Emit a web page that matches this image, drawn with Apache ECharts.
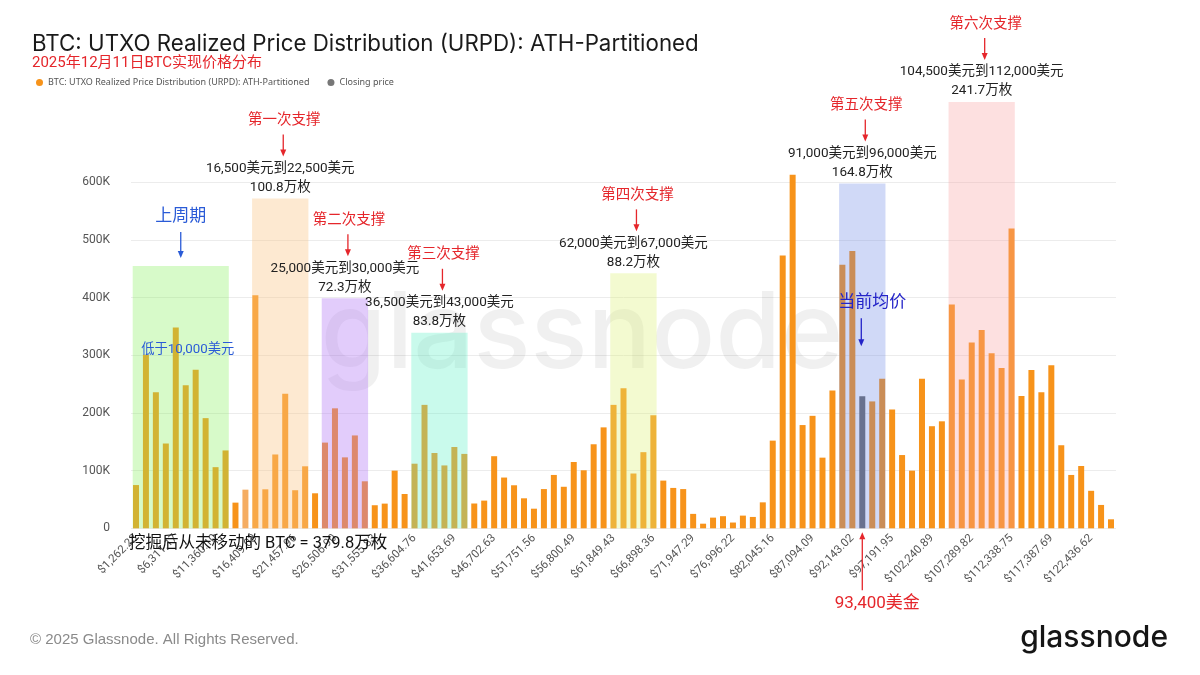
<!DOCTYPE html>
<html>
<head>
<meta charset="utf-8">
<script src="https://cdn.jsdelivr.net/npm/echarts@6/dist/echarts.min.js"></script>
<style>
html,body{margin:0;padding:0;background:#fff;}
#chart{width:1200px;height:675px;}
</style>
</head>
<body>
<div id="chart"></div>
<script>
// ---------------- DATA ----------------
const binWidth = 1262.233175; // USD width of each realized-price bucket
const urpdValues = [
  75000, 301000, 236000, 147000, 348000, 248000, 275000, 191000, 106000, 135000,
  44500, 67000, 404000, 67600, 128000, 233500, 66000, 107500, 60700, 148600,
  208000, 123000, 161000, 81500, 40000, 42800, 100000, 59500, 112000, 214000,
  130600, 109000, 141000, 129000, 43000, 48000, 125000, 88000, 74600, 52000,
  34000, 68000, 92500, 72000, 115000, 100600, 145700, 175000, 214000, 243000,
  95000, 132000, 196000, 82700, 70000, 68000, 25000, 8000, 18500, 21000,
  10000, 22000, 19700, 45000, 152000, 473000, 613000, 179000, 195000, 122500,
  239000, 457000, 481000, 229000, 220000, 259500, 206000, 127000, 100000, 259500,
  177000, 185500, 388000, 258000, 322000, 344000, 303500, 278000, 520000, 229500,
  274600, 236000, 282700, 144000, 92500, 108000, 65000, 40500, 15600
];
const categories = urpdValues.map((_, i) =>
  '$' + ((i + 1) * binWidth).toLocaleString('en-US', {minimumFractionDigits: 2, maximumFractionDigits: 2}));
const closingPriceIndex = 73;   // bucket containing the closing price (~93,400)
const fadedIndex = 11;          // lighter bar in the reference
const yTickValues = [0, 100000, 200000, 300000, 400000, 500000, 600000];

const regionStart = [0, 12, 19, 28, 48, 71, 82];
const regionEnd   = [9, 17, 23, 33, 52, 75, 88];
const regionTop   = [455000, 572000, 399000, 339000, 442000, 598000, 739000];
const regionTitles  = ['上周期', '第一次支撑', '第二次支撑', '第三次支撑', '第四次支撑', '第五次支撑', '第六次支撑'];
const regionRanges  = ['', '16,500美元到22,500美元', '25,000美元到30,000美元', '36,500美元到43,000美元',
                       '62,000美元到67,000美元', '91,000美元到96,000美元', '104,500美元到112,000美元'];
const regionAmounts = ['', '100.8万枚', '72.3万枚', '83.8万枚', '88.2万枚', '164.8万枚', '241.7万枚'];

const titleText = 'BTC: UTXO Realized Price Distribution (URPD): ATH-Partitioned';
const subtitleText = '2025年12月11日BTC实现价格分布';
const seriesName = 'BTC: UTXO Realized Price Distribution (URPD): ATH-Partitioned';
const closingName = 'Closing price';
const belowText = '低于10,000美元';
const currentText = '当前均价';
const closeText = '93,400美金';
const bottomText = '挖掘后从未移动的 BTC = 379.8万枚';

// ---------------- STYLE ----------------
const ORANGE = '#f7931a';
const FADED = '#f5ad62';
const GRAY = '#6a6a6a';
const RED = '#e5262b';
const BLUE = '#2a5bd7';
const DEEPBLUE = '#2424c8';
const regionColors = [
  'rgba(140,240,100,0.35)',
  'rgba(250,200,140,0.40)',
  'rgba(180,120,245,0.38)',
  'rgba(100,240,200,0.35)',
  'rgba(220,240,120,0.35)',
  'rgba(100,130,230,0.30)',
  'rgba(250,160,160,0.32)'
];
const REGION_PAD = 0.33;
const CJK = '"Noto Sans CJK SC", sans-serif';
const NUMF = 'Roboto, "Noto Sans CJK SC", sans-serif';

function txt(text, x, y, font, fill, align) {
  return {type: 'text', z: 100, z2: 10, style: {text, x, y, font, fill,
    align: align || 'center', verticalAlign: 'middle',
    textAlign: align || 'center', textVerticalAlign: 'middle'}};
}
function arrow(x, y1, y2, color) {
  // y1 = tail, y2 = tip
  const dir = y2 > y1 ? 1 : -1;
  return [
    {type: 'line', z: 100, z2: 10, shape: {x1: x, y1: y1, x2: x, y2: y2 - dir * 5}, style: {stroke: color, lineWidth: 1.3}},
    {type: 'polygon', z: 100, z2: 10, shape: {points: [[x - 3, y2 - dir * 7], [x + 3, y2 - dir * 7], [x, y2]]}, style: {fill: color}}
  ];
}

function renderRegion(params, api) {
  const i = params.dataIndex;
  const p0 = api.coord([api.value(0) - REGION_PAD, 0]);
  const p1 = api.coord([api.value(1) + REGION_PAD, api.value(2)]);
  const x0 = p0[0], x1 = p1[0], top = p1[1], bottom = p0[1];
  const cx = (x0 + x1) / 2;
  const children = [{type: 'rect', shape: {x: x0, y: top, width: x1 - x0, height: bottom - top},
    style: {fill: regionColors[i]}}];
  if (regionRanges[i]) {
    children.push(txt(regionAmounts[i], cx, top - 11, '13.5px ' + NUMF, '#222'));
    children.push(txt(regionRanges[i], cx, top - 30, '13.5px ' + NUMF, '#222'));
    children.push(...arrow(cx + 3, top - 64, top - 42, RED));
    children.push(txt(regionTitles[i], cx + 4, top - 80, '14.5px ' + CJK, RED));
  } else {
    children.push(...arrow(cx, top - 34, top - 8, BLUE));
    children.push(txt(regionTitles[i], cx, top - 51, '17px ' + CJK, BLUE));
  }
  return {type: 'group', children};
}

const chart = echarts.init(document.getElementById('chart'), null, {renderer: 'canvas'});

const gridLineColors = ['#ececec', '#ececec', '#ececec', '#ececec', '#ececec', '#ececec', '#ececec',
  'rgba(0,0,0,0)', 'rgba(0,0,0,0)'];

const option = {
  backgroundColor: '#ffffff',
  animation: false,
  title: {
    text: titleText,
    subtext: subtitleText,
    left: 27, top: 28,
    itemGap: 1,
    textStyle: {fontFamily: 'Inter, "Noto Sans", sans-serif', fontSize: 22.3, fontWeight: 'normal', color: '#1a1a1a'},
    subtextStyle: {fontFamily: NUMF, fontSize: 15, color: RED}
  },
  legend: {
    left: 31, top: 73,
    icon: 'circle', itemWidth: 7, itemHeight: 7, itemGap: 18,
    textStyle: {fontFamily: '"Noto Sans", sans-serif', fontSize: 9, color: '#555'},
    data: [{name: seriesName, itemStyle: {color: ORANGE}}, {name: closingName, itemStyle: {color: '#777'}}]
  },
  grid: {left: 131, right: 84, top: 101.5, bottom: 146.7, containLabel: false},
  xAxis: [
    {
      type: 'category', data: categories,
      axisLine: {show: false}, axisTick: {show: false},
      axisLabel: {interval: 3, rotate: 45, fontSize: 11.5, color: '#555', margin: 8, fontFamily: 'Roboto, sans-serif'}
    },
    {type: 'value', show: false, min: -0.5, max: urpdValues.length - 0.5}
  ],
  yAxis: {
    type: 'value', min: 0, max: 740000, interval: 100000,
    axisLine: {show: false}, axisTick: {show: false},
    axisLabel: {
      color: '#555', fontSize: 12, margin: 21, fontFamily: 'Roboto, sans-serif',
      formatter: v => v > yTickValues[yTickValues.length - 1] ? '' : (v === 0 ? '0' : (v / 1000) + 'K')
    },
    splitLine: {show: true, lineStyle: {color: gridLineColors, width: 1}}
  },
  series: [
    {
      name: seriesName, type: 'bar', barWidth: 6, barGap: '-100%', z: 2,
      itemStyle: {color: ORANGE},
      data: urpdValues.map((v, i) => i === closingPriceIndex ? '-' :
        (i === fadedIndex ? {value: v, itemStyle: {color: FADED}} : v))
    },
    {
      name: closingName, type: 'bar', barWidth: 6, barGap: '-100%', z: 2,
      itemStyle: {color: GRAY},
      data: urpdValues.map((v, i) => i === closingPriceIndex ? v : '-')
    },
    {
      type: 'custom', name: 'regions', xAxisIndex: 1, yAxisIndex: 0, z: 10, silent: true,
      clip: false,
      renderItem: renderRegion,
      encode: {x: [0, 1], y: 2},
      data: regionStart.map((s, i) => [s, regionEnd[i], regionTop[i]])
    }
  ]
};
chart.setOption(option);

// ---------------- ANNOTATIONS (positioned through the chart's scales) ----------------
const toPx = (x, y) => chart.convertToPixel({xAxisIndex: 1, yAxisIndex: 0}, [x, y]);
const closeTop = toPx(closingPriceIndex, urpdValues[closingPriceIndex]);
const closeBottom = toPx(closingPriceIndex, 0);
const belowPos = toPx(5.2, 310000);
const firstBar = toPx(-0.7, 0);
const graphics = [];
graphics.push({type: 'text', z: 0, style: {text: 'glassnode', x: 582, y: 336, font: '500 106px Inter, "Noto Sans", sans-serif',
  fill: 'rgba(0,0,0,0.06)', align: 'center', verticalAlign: 'middle', textAlign: 'center', textVerticalAlign: 'middle'}});
graphics.push(txt(belowText, belowPos[0], belowPos[1], '13.3px ' + NUMF, BLUE));
graphics.push(...arrow(closeTop[0] - 1, closeTop[1] - 78, closeTop[1] - 50, DEEPBLUE));
graphics.push(txt(currentText, closeTop[0] + 10, closeTop[1] - 96, '17px ' + CJK, DEEPBLUE));
graphics.push(...arrow(closeBottom[0], closeBottom[1] + 62, closeBottom[1] + 4, RED));
graphics.push(txt(closeText, closeBottom[0] + 15, closeBottom[1] + 75, '17px ' + NUMF, RED));
graphics.push(txt(bottomText, firstBar[0], firstBar[1] + 16, '16.5px ' + NUMF, '#111', 'left'));
graphics.push(txt('© 2025 Glassnode. All Rights Reserved.', 30, 640, '15px "Liberation Sans", Arial, sans-serif', '#8a8a8a', 'left'));
graphics.push(txt('glassnode', 1168, 638, '500 30px Inter, "Noto Sans", sans-serif', '#151515', 'right'));
chart.setOption({graphic: graphics});
</script>
</body>
</html>
